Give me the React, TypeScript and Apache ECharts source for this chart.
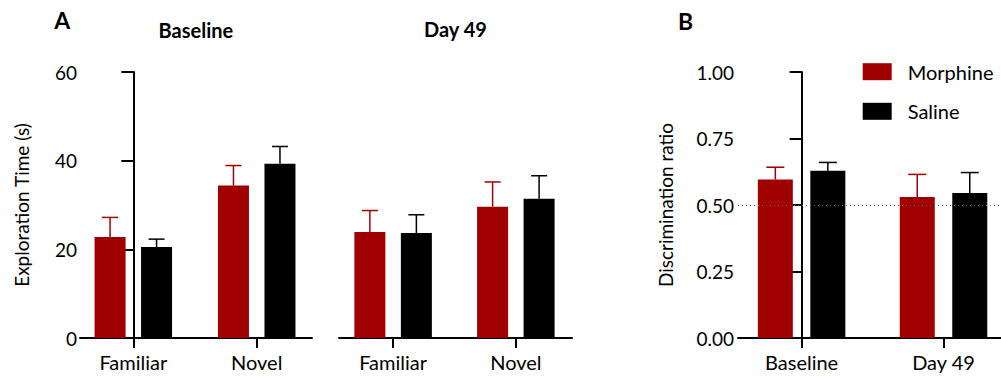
import React, { useEffect, useRef } from 'react';
import * as echarts from 'echarts';

// ---------- data ----------
const objectCategories = ['Familiar', 'Novel'];
const sessionCategories = ['Baseline', 'Day 49'];
const groupNames = ['Morphine', 'Saline'];

// Panel A – exploration time (s): mean and SEM
const baselineMorphine = [22.8, 34.4];
const baselineMorphineErr = [4.4, 4.5];
const baselineSaline = [20.5, 39.3];
const baselineSalineErr = [1.8, 3.9];
const day49Morphine = [23.9, 29.6];
const day49MorphineErr = [4.85, 5.6];
const day49Saline = [23.7, 31.4];
const day49SalineErr = [4.1, 5.2];

// Panel B – discrimination ratio: mean and SEM
const discMorphine = [0.596, 0.53];
const discMorphineErr = [0.046, 0.085];
const discSaline = [0.629, 0.545];
const discSalineErr = [0.031, 0.077];
const chanceLevel = 0.5;

const explorationTicks = [0, 20, 40, 60];
const ratioTicks = [0, 0.25, 0.5, 0.75, 1.0];

// ---------- style ----------
const FONT = 'Lato, "DejaVu Sans", sans-serif';
const MORPHINE = '#a00000';
const SALINE = '#000000';
const AXIS_W = 2;

export default function App() {
  const ref = useRef<HTMLDivElement>(null);

  useEffect(() => {
    if (!ref.current) return;
    const chart = echarts.init(ref.current, undefined, { renderer: 'svg' });

    const grids = [
      { left: 80, top: 72, width: 232, height: 266, outerBoundsMode: 'none' },
      { left: 339, top: 72, width: 233, height: 266, outerBoundsMode: 'none' },
      { left: 738, top: 72, width: 263, height: 266, outerBoundsMode: 'none' },
    ];
    const xRanges = [
      [-0.432, 1.448],
      [-0.441, 1.4575],
      [-0.448, 1.405],
    ];
    const xCats = [objectCategories, objectCategories, sessionCategories];

    const xAxes = grids.map((_, i) => ({
      type: 'value',
      gridIndex: i,
      min: xRanges[i][0],
      max: xRanges[i][1],
      axisLine: { show: true, onZero: false, lineStyle: { color: '#000', width: AXIS_W } },
      axisTick: { show: true, customValues: [0, 1], length: 10, lineStyle: { color: '#000', width: AXIS_W } },
      axisLabel: {
        show: true,
        customValues: [0, 1],
        formatter: (v: number) => xCats[i][Math.round(v)] ?? '',
        margin: 14,
        fontSize: 20,
        color: '#000',
        fontFamily: FONT,
      },
      splitLine: { show: false },
    }));

    const yCommon = {
      type: 'value',
      axisLine: { show: true, lineStyle: { color: '#000', width: AXIS_W } },
      axisTick: { show: true, length: 12, lineStyle: { color: '#000', width: AXIS_W } },
      splitLine: { show: false },
      nameLocation: 'middle',
      nameTextStyle: { fontSize: 19, color: '#000', fontFamily: FONT },
    };
    const yAxes = [
      {
        ...yCommon,
        gridIndex: 0,
        min: explorationTicks[0],
        max: explorationTicks[explorationTicks.length - 1],
        interval: explorationTicks[1] - explorationTicks[0],
        axisLabel: { fontSize: 19, margin: 3, color: '#000', fontFamily: FONT },
        name: 'Exploration Time (s)',
        nameGap: 49,
      },
      {
        type: 'value',
        gridIndex: 1,
        show: false,
        min: explorationTicks[0],
        max: explorationTicks[explorationTicks.length - 1],
      },
      {
        ...yCommon,
        gridIndex: 2,
        min: ratioTicks[0],
        max: ratioTicks[ratioTicks.length - 1],
        interval: ratioTicks[1] - ratioTicks[0],
        axisLabel: {
          fontSize: 19,
          margin: 4,
          color: '#000',
          fontFamily: FONT,
          formatter: (v: number) => v.toFixed(2),
        },
        name: 'Discrimination ratio',
        nameGap: 63,
      },
    ];

    const barSeries = (gi: number, name: string, vals: number[], color: string, width: number) => ({
      type: 'bar',
      name,
      xAxisIndex: gi,
      yAxisIndex: gi,
      data: vals.map((v, k) => [k, v]),
      barWidth: width,
      barGap: '50%',
      itemStyle: { color },
      z: 2,
    });

    const errSeries = (
      gi: number,
      vals: number[],
      errs: number[],
      offset: number,
      cap: number,
      color: string
    ) => ({
      type: 'custom',
      xAxisIndex: gi,
      yAxisIndex: gi,
      data: vals.map((v, k) => [k, v, v + errs[k]]),
      encode: { x: 0, y: [1, 2] },
      z: 3,
      renderItem: (_p: any, api: any) => {
        const base = api.coord([api.value(0), api.value(1)]);
        const top = api.coord([api.value(0), api.value(2)]);
        const x = base[0] + offset;
        return {
          type: 'group',
          children: [
            { type: 'line', shape: { x1: x, y1: base[1], x2: x, y2: top[1] }, style: { stroke: color, lineWidth: 1.5 } },
            { type: 'line', shape: { x1: x - cap / 2, y1: top[1], x2: x + cap / 2, y2: top[1] }, style: { stroke: color, lineWidth: 1.5 } },
          ],
        };
      },
    });

    const wA = 31;
    const offA = wA * 0.75; // half of (bar + half gap)
    const wB = 35;
    const offB = wB * 0.75;

    const series: any[] = [
      {
        type: 'line',
        xAxisIndex: 2,
        yAxisIndex: 2,
        data: [],
        z: 1,
        silent: true,
        markLine: {
          silent: true,
          symbol: 'none',
          label: { show: false },
          lineStyle: { color: '#666', width: 1, type: [1, 3] },
          data: [{ yAxis: chanceLevel }],
        },
      },
      barSeries(0, groupNames[0], baselineMorphine, MORPHINE, wA),
      barSeries(0, groupNames[1], baselineSaline, SALINE, wA),
      barSeries(1, groupNames[0], day49Morphine, MORPHINE, wA),
      barSeries(1, groupNames[1], day49Saline, SALINE, wA),
      barSeries(2, groupNames[0], discMorphine, MORPHINE, wB),
      barSeries(2, groupNames[1], discSaline, SALINE, wB),
      errSeries(0, baselineMorphine, baselineMorphineErr, -offA, 16, MORPHINE),
      errSeries(0, baselineSaline, baselineSalineErr, offA, 16, SALINE),
      errSeries(1, day49Morphine, day49MorphineErr, -offA, 16, MORPHINE),
      errSeries(1, day49Saline, day49SalineErr, offA, 16, SALINE),
      errSeries(2, discMorphine, discMorphineErr, -offB, 18, MORPHINE),
      errSeries(2, discSaline, discSalineErr, offB, 18, SALINE),
    ];

    chart.setOption({
      animation: false,
      backgroundColor: '#ffffff',
      textStyle: { fontFamily: FONT },
      grid: grids,
      xAxis: xAxes,
      yAxis: yAxes,
      legend: {
        data: groupNames,
        orient: 'vertical',
        left: 862.7,
        top: 61.7,
        padding: 0,
        itemWidth: 29,
        itemHeight: 17,
        itemGap: 19.6,
        icon: 'rect',
        selectedMode: false,
        textStyle: { fontSize: 20, color: '#000', fontFamily: FONT, lineHeight: 17, padding: [0, 0, 0, 11] },
      },
      graphic: [
        { type: 'text', x: 54.3, y: 20, style: { text: 'A', font: `bold 23px ${FONT}`, fill: '#000', textVerticalAlign: 'middle' } },
        { type: 'text', x: 195.9, y: 29.5, style: { text: sessionCategories[0], font: `bold 20px ${FONT}`, fill: '#000', textAlign: 'center', textVerticalAlign: 'middle' } },
        { type: 'text', x: 455.5, y: 28.5, style: { text: sessionCategories[1], font: `bold 20px ${FONT}`, fill: '#000', textAlign: 'center', textVerticalAlign: 'middle' } },
        { type: 'text', x: 678, y: 21, style: { text: 'B', font: `bold 23px ${FONT}`, fill: '#000', textVerticalAlign: 'middle' } },
      ],
      series,
    });

    return () => chart.dispose();
  }, []);

  return (
    <div
      ref={ref}
      style={{ position: 'fixed', left: 0, top: 0, width: 1001, height: 378, background: '#fff' }}
    />
  );
}
